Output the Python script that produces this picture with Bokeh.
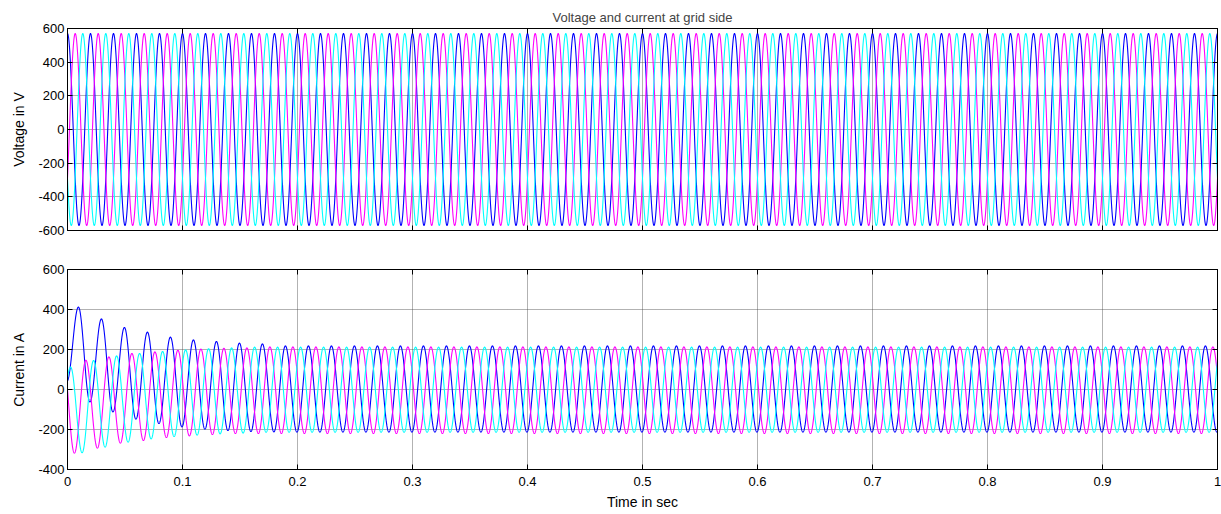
import numpy as np
from bokeh.plotting import figure
from bokeh.layouts import column
from bokeh.models import FixedTicker, LinearAxis, Range1d, ColumnDataSource
from bokeh.embed import file_html
from bokeh.resources import INLINE

# ---------------- data ----------------
FREQ_HZ = 50.0
T_END = 1.0
DT = 1e-4
HALF_PERIOD = 0.5 / FREQ_HZ

PHASE_NAMES = ["a", "b", "c"]
PHASE_COLORS = ["#0000ff", "#ff00ff", "#00ffff"]

# Grid voltage: amplitude and time of first positive peak of each phase
V_AMP = 570.0
V_FIRST_PEAK_T = [0.0, 0.0067, 0.0133]

# Grid current: successive extremes (alternating) starting at the listed time
I_FIRST_EXT_T = [-0.0005, -0.0040, -0.0073]
I_TRANSIENT_EXT = [
    [40, 412, -62, 353, -112, 310, -148, 287, -170, 262, -187, 248, -198, 240, -205, 232, -210, 228, -212],
    [168, -318, 146, -293, 163, -268, 180, -255, 188, -240, 196, -232, 202, -225, 206, -220, 208],
    [-200, 112, -316, 145, -288, 168, -263, 180, -247, 190, -235, 198, -228, 204, -222, 208, -218],
]
I_STEADY_PEAK = [218, 213, 212]
I_STEADY_TROUGH = [-213, -220, -214]

V_TICKS = [-600, -400, -200, 0, 200, 400, 600]
V_TICK_LABELS = ["-600", "-400", "-200", "0", "200", "400", "600"]
I_TICKS = [-400, -200, 0, 200, 400, 600]
I_TICK_LABELS = ["-400", "-200", "0", "200", "400", "600"]
T_TICKS = [0, 0.1, 0.2, 0.3, 0.4, 0.5, 0.6, 0.7, 0.8, 0.9, 1]
T_LABELS = ["0", "0.1", "0.2", "0.3", "0.4", "0.5", "0.6", "0.7", "0.8", "0.9", "1"]

TITLE = "Voltage and current at grid side"
V_LABEL = "Voltage in V"
I_LABEL = "Current in A"
T_LABEL = "Time in sec"


def waveform(t, t_first, extremes, steady_peak, steady_trough):
    """Join successive extremes (spaced half a period) with half-cosine arcs."""
    ext = list(extremes)
    n_needed = int(np.ceil((t[-1] - t_first) / HALF_PERIOD)) + 3
    while len(ext) < n_needed:
        ext.append(steady_trough if ext[-1] > 0 else steady_peak)
    ext = np.asarray(ext, dtype=float)
    pos = (t - t_first) / HALF_PERIOD
    k = np.floor(pos).astype(int)
    frac = pos - k
    a = ext[k]
    b = ext[k + 1]
    return a + (b - a) * (1 - np.cos(np.pi * frac)) / 2


t = np.arange(0, T_END + DT / 2, DT)

FONT = "Liberation Sans"


def hide_labels(ax, ticks):
    ax.major_label_overrides = {tk: " " for tk in ticks}
    ax.major_label_text_color = None
    ax.major_label_text_font_size = "1px"
    ax.major_label_standoff = 0


def style(p, yticks, ylabels, show_xlabels):
    p.outline_line_color = "black"
    p.outline_line_width = 1
    p.outline_line_alpha = 1
    for ax in p.xaxis + p.yaxis:
        ax.major_tick_in = 5
        ax.major_tick_out = 0
        ax.minor_tick_in = 0
        ax.minor_tick_out = 0
        ax.axis_line_color = "black"
        ax.major_tick_line_color = "black"
        ax.major_label_text_font = FONT
        ax.major_label_text_font_size = "13px"
        ax.major_label_text_color = "black"
        ax.axis_label_text_font = FONT
        ax.axis_label_text_font_size = "14px"
        ax.axis_label_text_font_style = "normal"
        ax.axis_label_text_color = "black"
    p.xaxis.ticker = FixedTicker(ticks=T_TICKS)
    p.yaxis.ticker = FixedTicker(ticks=yticks)
    p.xaxis.major_label_overrides = {tk: lb for tk, lb in zip(T_TICKS, T_LABELS)}
    p.yaxis.major_label_overrides = {tk: lb for tk, lb in zip(yticks, ylabels)}
    p.xaxis.major_label_standoff = 7
    p.xaxis.axis_label_standoff = 5
    p.yaxis.major_label_standoff = 3
    p.yaxis.axis_label_standoff = 8
    if not show_xlabels:
        hide_labels(p.xaxis[0], T_TICKS)
    p.xgrid.ticker = FixedTicker(ticks=T_TICKS)
    p.ygrid.ticker = FixedTicker(ticks=yticks)
    for g in (p.xgrid, p.ygrid):
        g.grid_line_color = "#4a4a4a"
        g.grid_line_dash = "1 1"
        g.grid_line_width = 1
        g.grid_line_alpha = 0.85
    # right and top inward ticks (MATLAB box)
    ra = LinearAxis(ticker=FixedTicker(ticks=yticks),
                    major_tick_in=5, major_tick_out=0, minor_tick_in=0, minor_tick_out=0,
                    axis_line_color="black")
    ta = LinearAxis(ticker=FixedTicker(ticks=T_TICKS),
                    major_tick_in=5, major_tick_out=0, minor_tick_in=0, minor_tick_out=0,
                    axis_line_color="black")
    hide_labels(ra, yticks)
    hide_labels(ta, T_TICKS)
    p.add_layout(ra, "right")
    p.add_layout(ta, "above")


# ---------------- top: voltage ----------------
p1 = figure(width=1221, height=250, output_backend="svg", toolbar_location=None,
            x_range=Range1d(0, 1), y_range=Range1d(-600, 600),
            min_border_left=67, min_border_right=4, min_border_top=28, min_border_bottom=20)
p1.title.text = TITLE
p1.title.align = "center"
p1.title.text_font = FONT
p1.title.text_font_size = "13px"
p1.title.text_font_style = "normal"
p1.title.standoff = 7
for i, name in enumerate(PHASE_NAMES):
    v = waveform(t, V_FIRST_PEAK_T[i] - 2 * HALF_PERIOD, [V_AMP], V_AMP, -V_AMP)
    src = ColumnDataSource(dict(t=t, v=v))
    p1.line("t", "v", source=src, line_color=PHASE_COLORS[i], line_width=1.1)
p1.yaxis.axis_label = V_LABEL
style(p1, V_TICKS, V_TICK_LABELS, False)

# ---------------- bottom: current ----------------
p2 = figure(width=1221, height=264, output_backend="svg", toolbar_location=None,
            x_range=Range1d(0, 1), y_range=Range1d(-400, 600),
            min_border_left=67, min_border_right=4, min_border_top=19, min_border_bottom=45)
for i, name in enumerate(PHASE_NAMES):
    cur = waveform(t, I_FIRST_EXT_T[i], I_TRANSIENT_EXT[i], I_STEADY_PEAK[i], I_STEADY_TROUGH[i])
    src = ColumnDataSource(dict(t=t, i=cur))
    p2.line("t", "i", source=src, line_color=PHASE_COLORS[i], line_width=1.1)
p2.yaxis.axis_label = I_LABEL
p2.xaxis.axis_label = T_LABEL
style(p2, I_TICKS, I_TICK_LABELS, True)

layout = column(p1, p2, spacing=0)
open("out.html", "w").write(file_html(layout, INLINE))
